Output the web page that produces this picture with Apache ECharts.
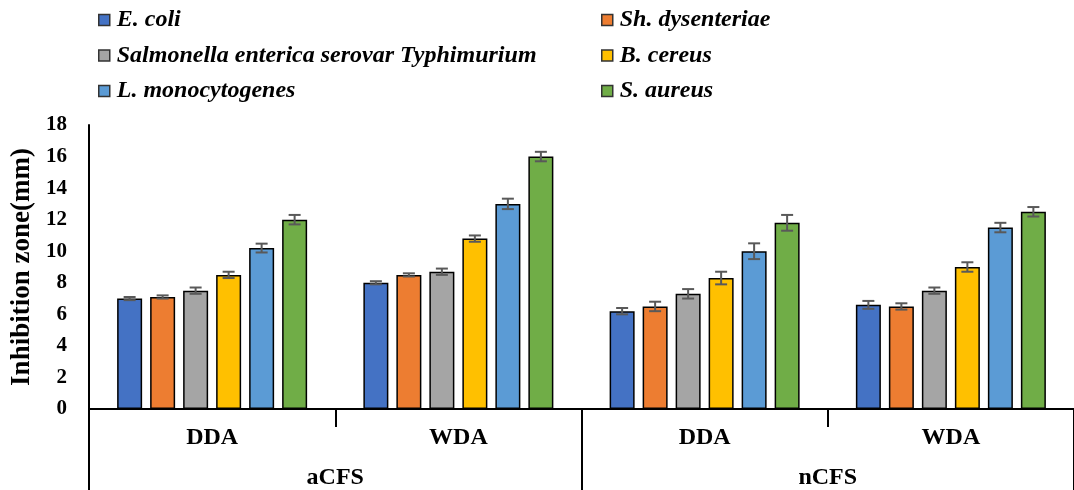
<!DOCTYPE html>
<html>
<head>
<meta charset="utf-8">
<script src="https://cdn.jsdelivr.net/npm/echarts@6/dist/echarts.min.js"></script>
<style>
  html, body { margin: 0; padding: 0; background: #fff; }
  #chart { width: 1074px; height: 490px; }
</style>
</head>
<body>
<div id="chart"></div>
<script>
// Treatments (inner axis) and preparations (outer axis)
const methods = ['DDA', 'WDA', 'DDA', 'WDA'];
const preparations = ['aCFS', 'nCFS'];
const yTicks = [0, 2, 4, 6, 8, 10, 12, 14, 16, 18];

// Mean inhibition zones (mm) for each bacterium
const seriesNames = ['E. coli', 'Sh. dysenteriae', 'Salmonella enterica serovar Typhimurium', 'B. cereus', 'L. monocytogenes', 'S. aureus'];
const eColi       = [7.0, 8.0, 6.2, 6.6];
const shDys       = [7.1, 8.5, 6.5, 6.5];
const salmonella  = [7.5, 8.7, 7.3, 7.5];
const bCereus     = [8.5, 10.8, 8.3, 9.0];
const lMono       = [10.2, 13.0, 10.0, 11.5];
const sAureus     = [12.0, 16.0, 11.8, 12.5];

// Standard deviations
const errEColi      = [0.1, 0.1, 0.2, 0.25];
const errShDys      = [0.1, 0.1, 0.3, 0.2];
const errSalmonella = [0.2, 0.2, 0.3, 0.2];
const errBCereus    = [0.2, 0.2, 0.4, 0.3];
const errLMono      = [0.28, 0.33, 0.5, 0.3];
const errSAureus    = [0.3, 0.3, 0.5, 0.3];

const values = [eColi, shDys, salmonella, bCereus, lMono, sAureus];
const errors = [errEColi, errShDys, errSalmonella, errBCereus, errLMono, errSAureus];
const colors = ['#4472C4', '#ED7D31', '#A5A5A5', '#FFC000', '#5B9BD5', '#70AD47'];

const BAR_W = 25;
const GAP_PCT = 32;
const pitch = BAR_W * (1 + GAP_PCT / 100);
const serif = '"Liberation Serif", "Times New Roman", serif';

const barSeries = values.map((v, i) => ({
  name: seriesNames[i],
  type: 'bar',
  data: v,
  barWidth: BAR_W,
  barGap: GAP_PCT + '%',
  itemStyle: { color: colors[i], borderColor: '#000', borderWidth: 1.5 },
  z: 2
}));

// Error bars drawn over the matching bar of each group
const errorSeries = values.map((v, i) => ({
  type: 'custom',
  name: seriesNames[i] + ' SD',
  data: v.map((m, k) => [k, m - errors[i][k], m + errors[i][k]]),
  z: 5,
  silent: true,
  renderItem: function (params, api) {
    const k = api.value(0);
    const lo = api.coord([k, api.value(1)]);
    const hi = api.coord([k, api.value(2)]);
    const x = lo[0] + (i - (values.length - 1) / 2) * pitch;
    const half = 6;
    const style = { stroke: '#595959', lineWidth: 2 };
    return {
      type: 'group',
      children: [
        { type: 'line', shape: { x1: x, y1: lo[1], x2: x, y2: hi[1] }, style: style },
        { type: 'line', shape: { x1: x - half, y1: lo[1], x2: x + half, y2: lo[1] }, style: style },
        { type: 'line', shape: { x1: x - half, y1: hi[1], x2: x + half, y2: hi[1] }, style: style }
      ]
    };
  }
}));

const legendText = {
  fontFamily: serif, fontWeight: 'bold', fontStyle: 'italic', fontSize: 24, color: '#000',
  padding: [0, 0, 0, 2]
};
const legendBase = {
  orient: 'vertical', top: 8, itemGap: 11.5, padding: 0,
  itemWidth: 11, itemHeight: 11, icon: 'rect',
  itemStyle: { borderColor: '#333', borderWidth: 1.5 },
  textStyle: legendText, selectedMode: false
};

const option = {
  animation: false,
  backgroundColor: '#fff',
  legend: [
    Object.assign({}, legendBase, { left: 98, data: [seriesNames[0], seriesNames[2], seriesNames[4]] }),
    Object.assign({}, legendBase, { left: 601, data: [seriesNames[1], seriesNames[3], seriesNames[5]] })
  ],
  grid: { left: 89, top: 125, width: 988, height: 284, containLabel: false },
  xAxis: [
    {
      type: 'category', data: methods, position: 'bottom',
      axisLine: { show: true, lineStyle: { color: '#000', width: 2 } },
      axisTick: { show: true, interval: 0, length: 18, lineStyle: { color: '#000', width: 2 } },
      axisLabel: { interval: 0, margin: 17, fontFamily: serif, fontWeight: 'bold', fontSize: 24, color: '#000' }
    },
    {
      type: 'category', data: preparations, position: 'bottom',
      axisLine: { show: false },
      axisTick: { show: true, interval: 0, length: 82, lineStyle: { color: '#000', width: 2 } },
      axisLabel: { interval: 0, margin: 57, fontFamily: serif, fontWeight: 'bold', fontSize: 24, color: '#000' }
    }
  ],
  yAxis: {
    type: 'value', min: yTicks[0], max: yTicks[yTicks.length - 1], interval: 2,
    name: 'Inhibition zone(mm)', nameLocation: 'middle', nameGap: 47,
    nameTextStyle: { fontFamily: serif, fontWeight: 'bold', fontSize: 27, color: '#000' },
    axisLine: { show: true, lineStyle: { color: '#000', width: 2 } },
    axisTick: { show: false },
    splitLine: { show: false },
    axisLabel: { margin: 22, fontFamily: serif, fontWeight: 'bold', fontSize: 21, color: '#000' }
  },
  series: barSeries.concat(errorSeries)
};

const chart = echarts.init(document.getElementById('chart'), null, { renderer: 'canvas' });
chart.setOption(option);
</script>
</body>
</html>
